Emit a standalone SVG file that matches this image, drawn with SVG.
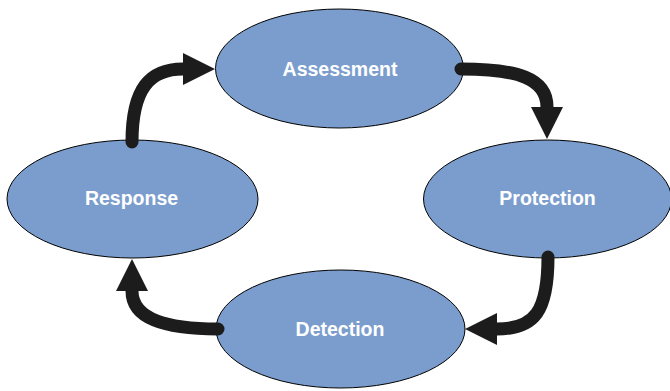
<svg xmlns="http://www.w3.org/2000/svg" width="670" height="391" viewBox="0 0 670 391">
  <style>
    .node ellipse { fill: #7b9dcd; stroke: #000000; stroke-width: 1; }
    .node text { font-family: "Liberation Sans", Arial, sans-serif; font-weight: bold; font-size: 19.5px; fill: #ffffff; text-anchor: middle; }
    .conn path { fill: none; stroke: #1c1c1c; stroke-width: 13; stroke-linecap: round; marker-end: url(#head); }
  </style>
  <defs>
    <marker id="head" markerUnits="userSpaceOnUse" markerWidth="32" markerHeight="32" refX="0" refY="16" orient="auto" overflow="visible">
      <path d="M0,0 L32,16 L0,32 Z" fill="#1c1c1c"/>
    </marker>
  </defs>

  <rect width="670" height="391" fill="#ffffff"/>

  <g id="assessment" class="node">
    <ellipse cx="339.5" cy="68.5" rx="124" ry="59.5"/>
    <text x="340" y="76">Assessment</text>
  </g>
  <g id="protection" class="node">
    <ellipse cx="547.5" cy="199" rx="124" ry="59"/>
    <text x="547.5" y="205">Protection</text>
  </g>
  <g id="detection" class="node">
    <ellipse cx="340.5" cy="329" rx="124.5" ry="59"/>
    <text x="340" y="336">Detection</text>
  </g>
  <g id="response" class="node">
    <ellipse cx="132.5" cy="199" rx="125.5" ry="59"/>
    <text x="131.5" y="205">Response</text>
  </g>

  <!-- cycle arrows, drawn over the ellipse outlines -->
  <g id="connectors" class="conn">
    <path d="M461,69 C517,69 547,78 547,107"/>
    <path d="M548,257 C548,311 535,329 497,329"/>
    <path d="M218,329 C163,329 132,318 132,291"/>
    <path d="M132,142 C132,88 150,69 183,69"/>
  </g>
</svg>
